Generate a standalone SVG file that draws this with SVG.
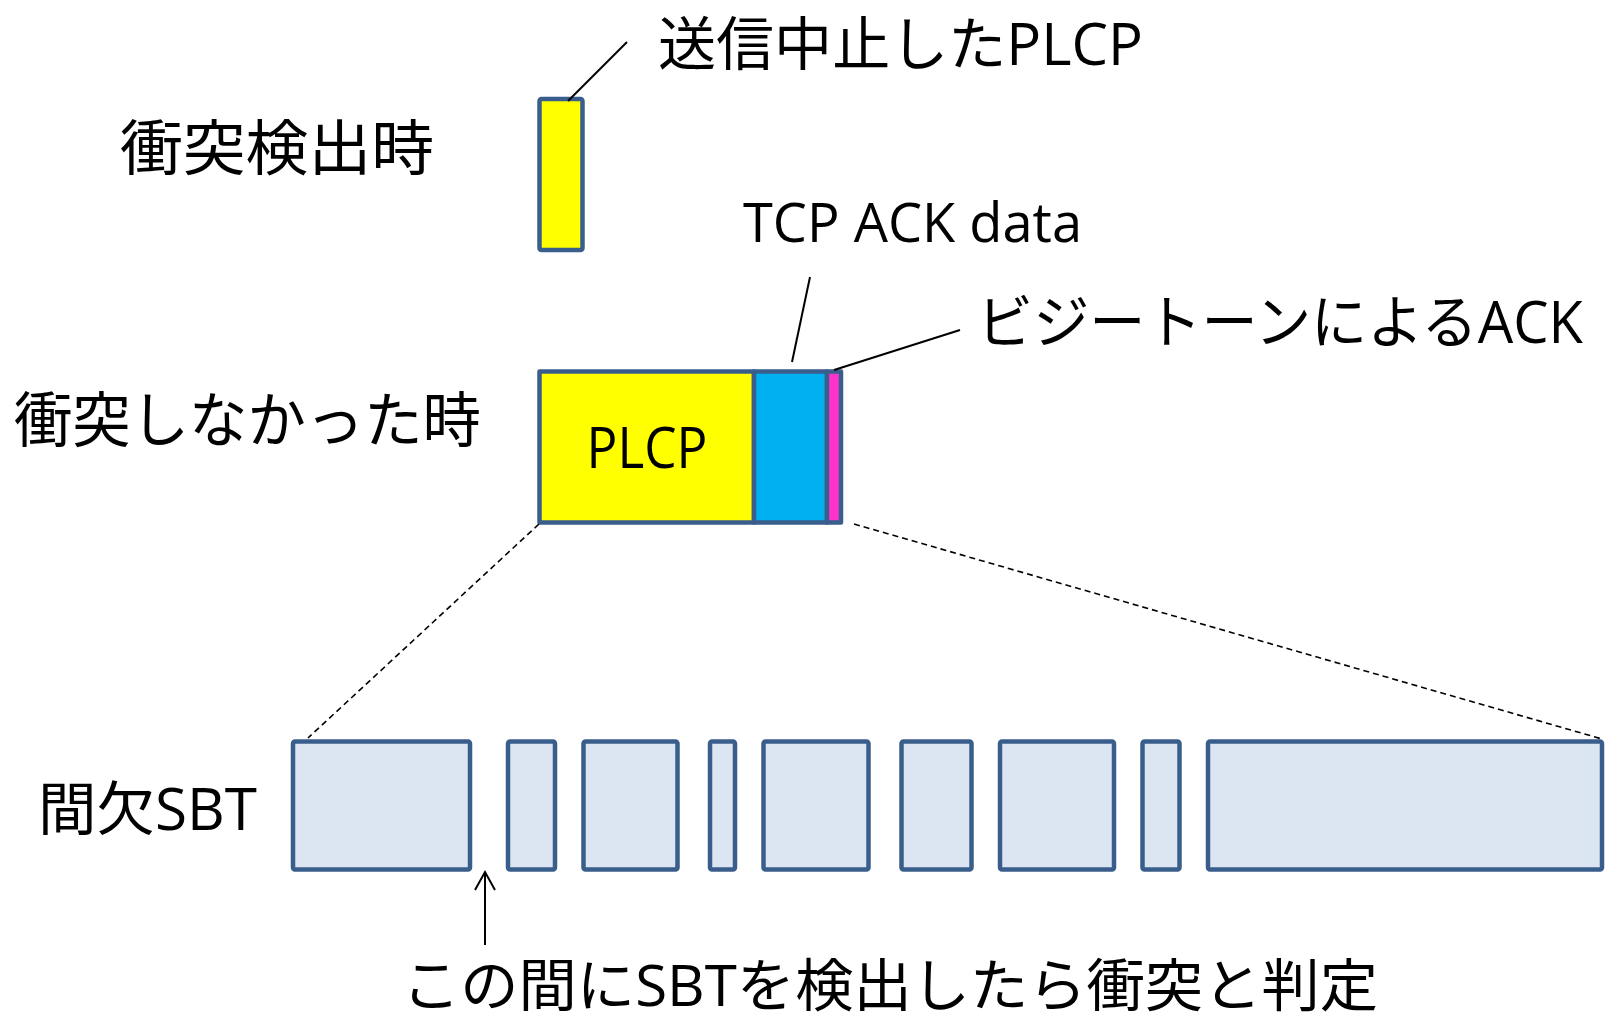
<svg xmlns="http://www.w3.org/2000/svg" width="1610" height="1023" viewBox="0 0 1610 1023">
<style>
.t{font-family:"Open Sans","Noto Sans CJK JP",sans-serif;fill:#000;}
.box{stroke:#3A5E8C;stroke-width:4.5;stroke-linejoin:round;}
.sbt{fill:#DCE6F2;}
.ln{stroke:#000;stroke-width:2;fill:none;}
.dash{stroke:#000;stroke-width:1.6;stroke-dasharray:6 4;fill:none;}
</style>
<rect width="1610" height="1023" fill="#fff"/>

<g id="label-collision">
<text class="t" x="120" y="170" font-size="60" textLength="314" lengthAdjust="spacingAndGlyphs">衝突検出時</text>
</g>
<g id="label-nocollision">
<text class="t" x="14" y="442" font-size="60" textLength="467" lengthAdjust="spacingAndGlyphs">衝突しなかった時</text>
</g>
<g id="label-sbt">
<text class="t" x="38" y="830" font-size="58" textLength="219" lengthAdjust="spacingAndGlyphs">間欠SBT</text>
</g>

<g id="plcp-aborted">
<rect class="box" x="539.5" y="99" width="43" height="151" rx="2" fill="#FFFF00"/>
</g>
<g id="label-aborted">
<text class="t" x="658" y="65" font-size="58" textLength="485" lengthAdjust="spacingAndGlyphs">送信中止したPLCP</text>
</g>

<g id="frame">
<rect class="box" x="539.5" y="371.5" width="214.5" height="151" fill="#FFFF00"/>
<rect class="box" x="754" y="371.5" width="73" height="151" fill="#00B0F0"/>
<rect class="box" x="827" y="371.5" width="14" height="151" fill="#FF33CC"/>
<text class="t" x="647" y="468" font-size="56" text-anchor="middle" textLength="121" lengthAdjust="spacingAndGlyphs">PLCP</text>
</g>
<g id="label-tcpack">
<text class="t" x="743" y="242" font-size="55" textLength="339" lengthAdjust="spacingAndGlyphs">TCP ACK data</text>
</g>
<g id="label-busytone">
<text class="t" x="977" y="343" font-size="58" textLength="606" lengthAdjust="spacingAndGlyphs">ビジートーンによるACK</text>
</g>

<g id="sbt-bursts">
<rect class="box sbt" x="293" y="741.5" width="177" height="128" rx="2"/>
<rect class="box sbt" x="508" y="741.5" width="47" height="128" rx="2"/>
<rect class="box sbt" x="583.5" y="741.5" width="94" height="128" rx="2"/>
<rect class="box sbt" x="710" y="741.5" width="25" height="128" rx="2"/>
<rect class="box sbt" x="763.5" y="741.5" width="105" height="128" rx="2"/>
<rect class="box sbt" x="901.5" y="741.5" width="70" height="128" rx="2"/>
<rect class="box sbt" x="1000" y="741.5" width="114" height="128" rx="2"/>
<rect class="box sbt" x="1142.5" y="741.5" width="37" height="128" rx="2"/>
<rect class="box sbt" x="1208" y="741.5" width="394" height="128" rx="2"/>
</g>
<g id="label-detect">
<text class="t" x="402" y="1006" font-size="57" textLength="976" lengthAdjust="spacingAndGlyphs">この間にSBTを検出したら衝突と判定</text>
</g>

<g id="connectors">
<line class="ln" x1="627" y1="42" x2="568" y2="101"/>
<line class="ln" x1="810" y1="277" x2="792" y2="362"/>
<line class="ln" x1="960" y1="330" x2="834" y2="370"/>
<line class="dash" x1="539" y1="524" x2="308" y2="738"/>
<line class="dash" x1="854" y1="524" x2="1602" y2="739"/>
<line class="ln" x1="485" y1="945" x2="485" y2="872"/>
<polyline class="ln" points="475,890 485,872 495,890"/>
</g>
</svg>
